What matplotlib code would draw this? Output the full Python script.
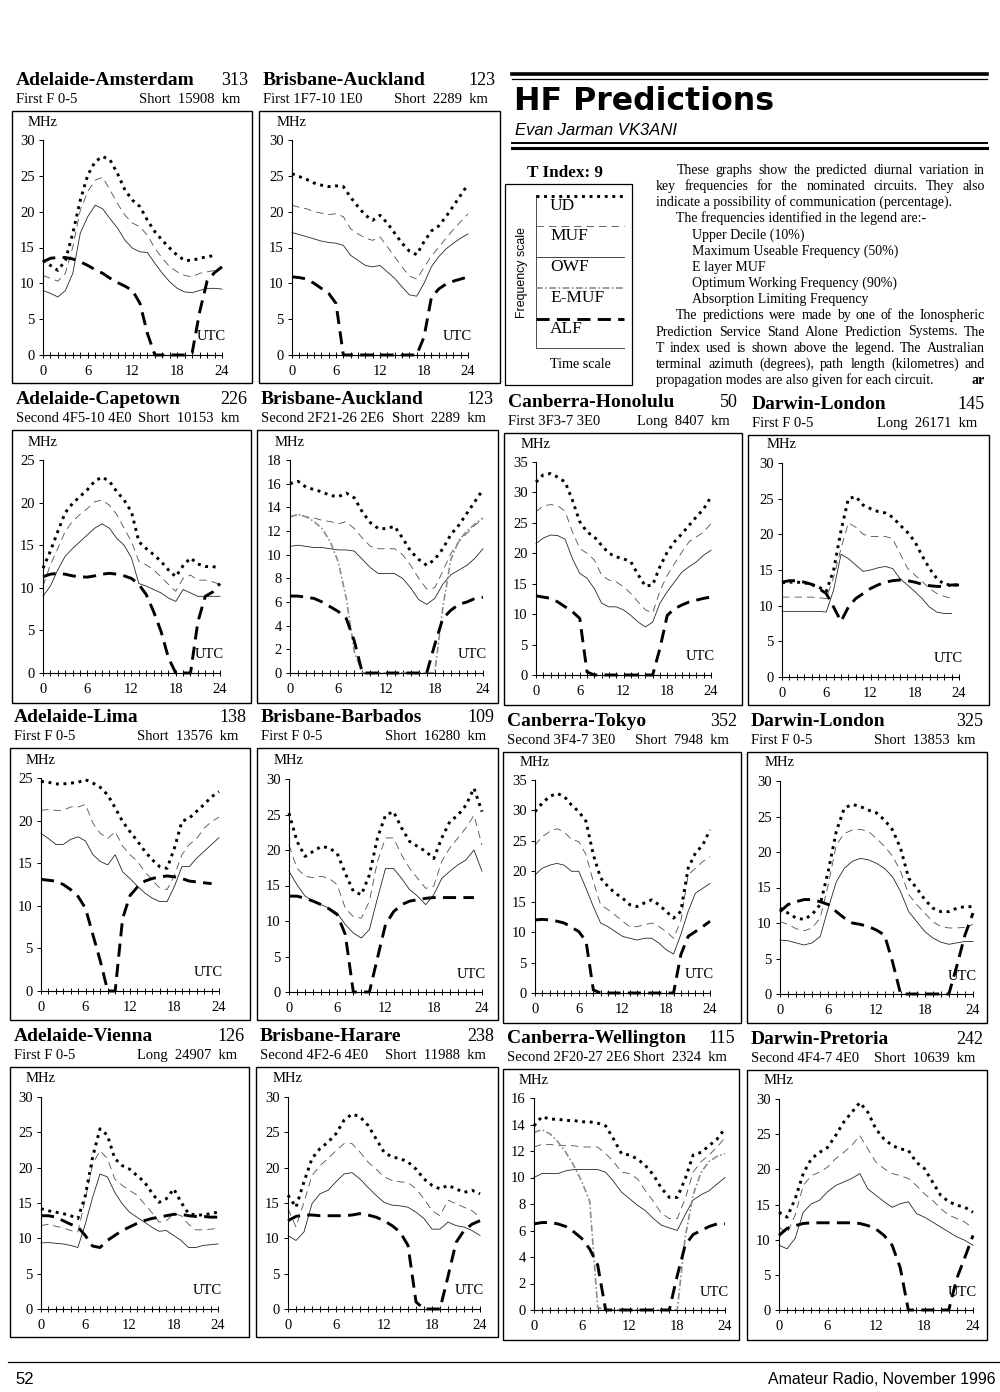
import numpy as np
import matplotlib
matplotlib.use("Agg")
import matplotlib.pyplot as plt
from matplotlib.patches import Rectangle
from matplotlib.ticker import MultipleLocator

nan = np.nan
hours = np.arange(25)  # UTC 0..24

# ---- data (MHz, hourly) ----
ams_ud = [13.2,12.5,11.8,13.2,17.0,21.6,25.1,27.0,27.7,27.2,25.3,23.0,21.6,20.7,18.8,17.2,16.0,14.9,13.9,13.2,13.2,13.5,13.7,13.9,nan]
ams_muf = [11.1,10.7,10.3,11.4,15.1,20.2,22.8,24.4,24.8,23.0,21.1,19.5,18.4,17.9,16.7,14.9,13.5,12.3,11.6,11.1,10.9,11.4,11.6,11.8,nan]
ams_owf = [9.0,8.6,8.1,9.0,11.4,17.0,19.3,20.9,20.4,19.0,17.7,16.0,14.9,14.4,14.3,12.8,11.4,10.2,9.3,8.8,8.7,9.0,9.3,9.3,9.2]
ams_alf = [13.0,13.5,13.6,13.6,13.4,13.0,12.5,11.9,11.4,10.7,10.1,9.6,9.0,7.2,3.0,0,0,0,0,0,0.3,6.0,10.3,11.5,12.3]

akl1_ud = [25.3,24.9,24.5,24.0,23.7,23.5,23.6,23.5,22.0,20.7,19.5,18.8,19.5,18.4,17.0,15.6,14.5,14.0,15.8,17.3,18.0,19.3,20.8,22.3,23.8]
akl1_muf = [20.9,20.6,20.4,20.0,19.8,19.6,19.7,19.3,17.6,16.9,16.3,16.0,16.5,15.1,13.7,12.3,11.0,10.6,12.2,13.8,15.0,16.3,17.5,18.6,19.7]
akl1_owf = [17.1,16.8,16.5,16.2,15.9,15.7,15.6,15.3,13.9,13.2,12.5,12.3,12.5,11.6,10.7,9.5,8.4,8.2,10.0,12.3,13.7,14.8,15.6,16.3,16.9]
akl1_alf = [10.9,10.8,10.6,10.0,9.3,8.6,7.2,0,0,0,0,0,0,0,0,0,0,0,2.5,8.0,9.2,9.9,10.3,10.6,10.9]

cpt_ud = [12.3,14.3,16.6,18.8,19.9,20.7,21.5,22.5,23.0,22.5,21.3,20.3,18.9,15.4,14.6,13.9,13.1,12.1,11.3,12.6,13.5,12.8,12.5,12.5,12.3]
cpt_muf = [10.2,12.7,14.6,16.6,17.8,18.6,19.3,20.1,20.3,19.7,18.6,17.0,15.4,13.1,12.7,12.1,11.3,10.4,9.6,11.1,11.5,10.9,10.9,10.7,10.4]
cpt_owf = [9.0,10.2,12.1,13.7,14.6,15.4,16.2,17.0,17.5,17.0,15.8,15.0,13.5,10.5,10.2,9.8,9.4,8.8,8.4,9.8,9.4,9.0,9.0,9.0,9.0]
cpt_alf = [11.3,11.6,11.7,11.6,11.4,11.3,11.25,11.4,11.6,11.7,11.6,11.4,11.1,10.4,9.2,7.2,4.9,1.8,0,0,0,6.0,9.0,9.5,10.5]

akl2_ud = [16.0,16.2,15.7,15.5,15.3,15.0,14.9,15.2,14.8,13.6,12.7,12.2,12.2,12.4,11.4,10.3,9.6,9.1,9.6,10.5,11.7,12.5,13.5,14.5,15.5]
akl2_muf = [13.2,13.4,13.2,13.1,12.9,12.8,12.6,12.8,12.2,11.4,10.7,10.5,10.5,10.5,10.0,9.1,8.0,7.1,7.2,8.6,10.1,11.1,11.8,12.5,13.0]
akl2_owf = [10.7,10.8,10.7,10.6,10.6,10.5,10.4,10.4,10.3,9.6,8.9,8.4,8.4,8.4,8.0,7.2,6.2,5.8,6.3,7.5,8.3,8.7,9.1,9.7,10.5]
akl2_emuf = [13.2,13.4,13.2,12.8,12.2,11.1,9.4,6.3,1.8,0,0,0,0,0,0,0,0,0,0,5.5,9.6,11.2,12.0,12.6,13.1]
akl2_alf = [6.5,6.5,6.4,6.3,6.0,5.6,5.2,4.6,2.7,0,0,0,0,0,0,0,0,0,2.4,4.6,5.3,5.8,6.0,6.3,6.4]

hnl_ud = [31.7,32.9,33.1,32.5,31.7,28.7,25.2,23.5,22.7,21.3,20.0,19.4,19.1,18.6,16.5,14.6,14.8,17.8,20.2,21.9,23.2,24.6,26.0,27.3,29.3]
hnl_muf = [26.8,27.8,28.0,27.8,26.9,23.5,20.8,20.0,18.9,16.4,15.6,15.3,14.5,13.4,12.0,10.7,10.2,13.8,16.4,18.3,20.2,21.9,22.7,23.5,24.9]
hnl_owf = [21.6,22.5,23.0,22.9,22.3,19.1,16.7,15.9,14.2,11.8,11.2,11.2,10.7,9.8,8.7,7.9,8.7,11.8,13.7,15.3,16.9,17.8,18.6,19.7,20.5]
hnl_alf = [13.0,12.8,12.6,12.0,11.2,10.4,9.3,0.5,0,0,0,0,0,0,0,0,0,4.4,9.8,10.9,11.5,12.0,12.3,12.6,12.8]

lon1_ud = [13.2,13.3,13.3,13.2,13.0,12.6,12.0,15.0,20.5,25.0,25.3,24.1,23.6,23.2,23.0,22.4,21.3,20.3,19.0,17.0,15.2,13.8,13.0,12.9,12.9]
lon1_muf = [11.2,11.2,11.2,11.2,11.2,11.1,11.0,14.0,18.0,21.6,21.0,20.0,19.7,19.7,19.7,19.4,17.3,15.3,14.3,13.4,12.4,11.7,11.3,11.0,nan]
lon1_owf = [9.2,9.2,9.2,9.2,9.2,9.2,9.1,12.2,17.2,16.6,15.7,14.8,15.0,15.3,15.5,15.2,13.8,12.9,12.0,11.0,9.8,9.1,8.9,8.9,nan]
lon1_alf = [13.3,13.5,13.5,13.3,13.0,12.4,11.7,9.8,7.8,9.8,11.0,11.7,12.4,12.9,13.3,13.5,13.6,13.5,13.3,13.0,12.8,12.7,12.7,12.9,12.9]

lim_ud = [24.6,24.5,24.3,24.3,24.4,24.5,24.8,24.4,23.9,23.0,21.5,19.9,18.7,17.6,16.4,15.4,14.6,14.4,16.8,19.9,20.3,21.1,21.9,22.8,23.4]
lim_muf = [21.2,21.3,21.2,21.2,21.6,21.6,21.9,19.7,18.5,17.9,18.7,17.0,16.0,15.2,14.0,13.0,12.1,11.9,13.6,16.0,17.2,17.9,19.1,19.9,20.4]
lim_owf = [18.5,17.9,17.2,17.2,17.8,18.1,17.6,16.0,15.2,14.8,16.0,14.0,13.2,12.3,11.5,10.9,10.5,10.5,12.3,14.6,14.6,15.6,16.4,17.2,18.0]
lim_alf = [13.1,13.0,12.9,12.5,11.9,11.1,9.7,6.6,3.5,0,0,8.5,11.2,12.2,12.9,13.2,13.4,13.5,13.4,13.2,12.9,12.8,12.7,12.6,nan]

bgi_ud = [25.2,21.2,19.1,19.8,20.5,20.3,19.5,16.7,14.2,13.7,16.5,21.7,24.9,25.4,23.1,21.2,20.5,19.8,18.8,21.7,24.0,24.9,26.3,28.7,25.4]
bgi_muf = [20.7,17.4,16.3,16.1,16.3,16.0,15.1,11.8,10.6,10.4,12.8,18.4,21.7,21.7,19.3,17.4,16.0,14.6,14.9,18.4,20.3,21.7,23.1,24.9,20.7]
bgi_owf = [17.0,15.1,13.5,12.8,12.3,11.8,11.1,9.5,8.3,7.6,8.8,13.2,17.4,17.4,16.0,14.4,13.5,12.3,13.7,16.0,17.0,17.9,18.6,20.0,17.0]
bgi_alf = [13.5,13.5,13.2,12.8,12.3,11.7,10.9,8.1,0,0,0,4.8,9.5,11.3,12.3,12.8,13.0,13.2,13.3,13.3,13.3,13.3,13.3,13.3,nan]

tyo_ud = [29.8,31.2,32.3,32.8,32.3,30.9,29.8,28.2,22.7,18.9,17.5,16.4,15.6,14.5,14.2,14.8,15.3,14.5,13.4,12.3,13.4,20.5,23.0,24.3,26.8]
tyo_muf = [24.3,25.7,26.5,27.0,26.5,25.2,24.9,22.7,18.3,14.5,13.7,12.8,11.8,10.9,10.9,11.2,11.5,10.9,10.1,9.0,11.8,19.4,20.5,21.6,22.4]
tyo_owf = [19.4,20.5,21.0,21.3,21.0,20.0,20.0,17.2,14.2,11.5,10.9,10.1,9.3,9.0,8.7,9.0,9.0,8.2,7.1,6.4,9.6,13.4,16.4,17.2,18.0]
tyo_alf = [12.0,12.1,12.0,11.8,11.5,10.8,10.1,8.5,0.5,0,0,0,0,0,0,0,0,0,0,0,6.3,9.3,10.1,10.9,11.8]

lon2_ud = [12.1,11.4,10.7,10.5,11.2,12.6,17.3,22.9,26.2,26.7,26.4,25.9,25.5,24.5,23.1,20.5,16.3,14.9,13.3,12.1,11.6,11.6,12.1,12.3,12.3]
lon2_muf = [10.2,9.8,9.2,8.9,9.3,10.7,15.4,21.0,22.6,23.1,23.2,22.9,21.9,20.8,19.4,17.3,14.0,12.6,11.4,10.2,9.5,9.3,9.3,9.4,9.8]
lon2_owf = [7.6,7.5,7.2,6.9,7.2,8.1,12.1,15.8,17.7,18.7,19.1,18.9,18.4,17.7,16.5,14.4,11.6,10.2,8.8,7.9,7.3,7.0,7.2,7.4,7.4]
lon2_alf = [11.6,12.6,13.0,13.3,13.3,13.0,12.6,11.6,10.7,10.0,9.8,9.5,9.0,8.3,4.5,0,0,0,0,0,0,0,4.0,8.3,11.4]

vie_ud = [14.2,13.9,13.7,13.5,13.2,12.8,16.0,21.5,25.5,24.6,21.3,20.3,19.8,18.9,18.0,16.5,15.1,15.6,17.0,15.1,13.5,13.3,13.3,13.5,13.7]
vie_muf = [11.8,12.0,11.7,11.5,11.1,10.9,15.5,20.5,22.4,21.3,18.4,17.5,16.8,16.1,14.9,13.7,12.3,12.5,13.5,13.2,12.0,11.2,11.2,11.3,11.4]
vie_owf = [9.35,9.4,9.3,9.2,9.0,8.7,12.0,15.8,19.1,18.7,16.5,14.9,13.7,13.0,12.3,11.6,11.0,11.1,10.4,9.7,8.7,8.7,9.0,9.1,9.2]
vie_alf = [13.2,13.2,13.0,12.5,12.0,11.6,10.4,8.9,8.7,9.7,10.4,11.1,11.6,12.1,12.5,12.8,13.0,13.2,13.4,13.4,13.2,13.1,13.1,13.0,13.0]

hre_ud = [16.1,14.4,18.0,21.3,22.7,23.6,24.8,26.7,27.6,27.2,26.0,24.1,22.2,21.5,21.3,20.8,19.8,18.4,17.5,17.0,17.5,17.0,16.5,16.8,16.3]
hre_muf = [14.2,11.6,15.1,18.9,20.3,21.3,22.4,23.4,23.4,22.2,20.8,19.8,18.7,18.2,18.0,17.9,17.0,15.6,13.9,13.2,15.4,14.9,14.4,13.9,13.0]
hre_owf = [10.4,9.7,10.9,14.9,16.3,16.8,18.0,19.1,19.3,18.4,17.2,16.1,15.1,14.7,14.6,14.4,13.7,12.8,11.3,11.3,12.3,11.8,11.6,11.1,10.4]
hre_alf = [12.5,13.1,13.3,13.3,13.2,13.2,13.2,13.2,13.3,13.5,13.3,13.0,12.5,11.8,10.9,9.0,1.0,0,0,0,4.6,9.4,11.1,12.0,12.5]

wlg_ud = [13.9,14.6,14.4,14.4,14.3,14.3,14.2,14.2,14.1,13.9,12.9,11.8,11.7,11.4,10.9,10.2,9.2,8.5,8.5,9.9,11.7,11.9,12.4,12.9,13.7]
wlg_muf = [12.3,12.5,12.5,12.4,12.4,12.4,12.3,12.3,12.3,11.8,11.2,10.4,10.3,9.9,9.0,8.2,7.3,6.9,6.9,8.4,10.4,11.2,11.7,12.3,13.0]
wlg_owf = [10.0,10.3,10.3,10.3,10.5,10.6,10.6,10.6,10.6,10.4,9.7,8.9,8.4,7.9,7.5,6.9,6.4,6.2,6.0,7.2,8.3,8.7,9.0,9.5,10.0]
wlg_emuf = [13.4,13.6,13.3,12.7,11.9,10.9,9.7,8.2,0.2,0,0,0,0,0,0,0,0,0,0,5.5,8.7,10.4,11.2,11.6,11.8]
wlg_alf = [6.5,6.6,6.6,6.5,6.3,5.9,5.4,4.6,3.4,0,0,0,0,0,0,0,0,0,2.6,4.9,5.7,6.0,6.3,6.5,6.5]

pry_ud = [13.9,13.2,15.8,19.4,21.5,22.4,23.1,24.8,26.7,28.1,29.5,28.1,25.7,24.3,23.4,22.9,22.7,21.0,20.1,18.2,16.3,15.4,14.9,14.6,13.9]
pry_muf = [11.8,10.9,13.5,17.7,19.1,19.6,20.3,21.5,22.4,23.4,24.8,22.9,21.0,20.1,19.4,19.1,18.7,17.7,16.5,15.6,14.4,13.5,13.0,12.5,11.6]
pry_owf = [9.2,8.7,10.2,13.9,15.1,15.6,16.8,17.7,18.2,18.7,19.4,17.2,16.3,15.4,14.6,15.1,15.4,13.7,13.2,12.5,11.8,11.1,10.4,9.9,9.2]
pry_alf = [10.6,11.6,12.0,12.3,12.4,12.4,12.4,12.4,12.4,12.4,12.3,12.0,11.5,10.6,9.2,6.0,0,0,0,0,0,0,4.5,7.5,10.6]

circuits = ["Adelaide-Amsterdam", "Brisbane-Auckland", "Adelaide-Capetown", "Brisbane-Auckland",
            "Canberra-Honolulu", "Darwin-London", "Adelaide-Lima", "Brisbane-Barbados",
            "Canberra-Tokyo", "Darwin-London", "Adelaide-Vienna", "Brisbane-Harare",
            "Canberra-Wellington", "Darwin-Pretoria"]
azimuths = ["313", "123", "226", "123", "50", "145", "138", "109", "352", "325", "126", "238", "115", "242"]
modes = ["First F 0-5", "First 1F7-10 1E0", "Second 4F5-10 4E0", "Second 2F21-26 2E6",
         "First 3F3-7 3E0", "First F 0-5", "First F 0-5", "First F 0-5",
         "Second 3F4-7 3E0", "First F 0-5", "First F 0-5", "Second 4F2-6 4E0",
         "Second 2F20-27 2E6", "Second 4F4-7 4E0"]
paths = ["Short", "Short", "Short", "Short", "Long", "Long", "Short", "Short",
         "Short", "Short", "Long", "Short", "Short", "Short"]
lengths = ["15908", "2289", "10153", "2289", "8407", "26171", "13576", "16280",
           "7948", "13853", "24907", "11988", "2324", "10639"]
y_max = [30, 30, 25, 18, 35, 30, 25, 30, 35, 30, 30, 30, 16, 30]
y_step = [5, 5, 5, 2, 5, 5, 5, 5, 5, 5, 5, 5, 2, 5]

series = [
    dict(UD=ams_ud, MUF=ams_muf, OWF=ams_owf, ALF=ams_alf),
    dict(UD=akl1_ud, MUF=akl1_muf, OWF=akl1_owf, ALF=akl1_alf),
    dict(UD=cpt_ud, MUF=cpt_muf, OWF=cpt_owf, ALF=cpt_alf),
    dict(UD=akl2_ud, MUF=akl2_muf, OWF=akl2_owf, EMUF=akl2_emuf, ALF=akl2_alf),
    dict(UD=hnl_ud, MUF=hnl_muf, OWF=hnl_owf, ALF=hnl_alf),
    dict(UD=lon1_ud, MUF=lon1_muf, OWF=lon1_owf, ALF=lon1_alf),
    dict(UD=lim_ud, MUF=lim_muf, OWF=lim_owf, ALF=lim_alf),
    dict(UD=bgi_ud, MUF=bgi_muf, OWF=bgi_owf, ALF=bgi_alf),
    dict(UD=tyo_ud, MUF=tyo_muf, OWF=tyo_owf, ALF=tyo_alf),
    dict(UD=lon2_ud, MUF=lon2_muf, OWF=lon2_owf, ALF=lon2_alf),
    dict(UD=vie_ud, MUF=vie_muf, OWF=vie_owf, ALF=vie_alf),
    dict(UD=hre_ud, MUF=hre_muf, OWF=hre_owf, ALF=hre_alf),
    dict(UD=wlg_ud, MUF=wlg_muf, OWF=wlg_owf, EMUF=wlg_emuf, ALF=wlg_alf),
    dict(UD=pry_ud, MUF=pry_muf, OWF=pry_owf, ALF=pry_alf),
]

# ---- page layout in pixels: frame box (l, t, r, b) and plot area (x of 0h, x of 24h, y of top, y of 0) ----
boxes = [(12,111,252,383), (259,111,500,383),
         (12,430,251,703), (257,430,498,703), (504,433,742,705), (748,435,989,705),
         (10,748,250,1020), (257,748,498,1020), (503,752,741,1023), (747,752,987,1023),
         (10,1067,249,1337), (256,1067,498,1337), (503,1069,739,1340), (747,1070,987,1340)]
plot_px = [(43,222,140,355), (292,468,140,355),
           (43,220,460,673), (290,483,460,673), (536,711,462,675), (782,959,463,677),
           (41,219,778,991), (289,482,779,992), (535,710,780,993), (780,973,781,994),
           (41,218,1097,1309), (288,480,1097,1309), (534,725,1098,1310), (779,973,1099,1310)]

styles = {
    "OWF": dict(color="0.15", lw=0.6, ls="-"),
    "MUF": dict(color="0.3", lw=0.6, ls=(0, (9, 6))),
    "EMUF": dict(color="0.55", lw=1.2, ls=(0, (4, 1.5, 1, 1.5))),
    "UD": dict(color="black", lw=2.1, ls=(0, (1, 1.6))),
    "ALF": dict(color="black", lw=2.1, ls=(0, (4.5, 2.5))),
}

SERIF = "Liberation Serif"
SANS = "Liberation Sans"
plt.rcParams["font.family"] = SERIF

W, H = 1000, 1392
fig = plt.figure(figsize=(10, 13.92), dpi=100)
page = fig.add_axes([0, 0, 1, 1], zorder=-1)
page.set_xlim(0, W)
page.set_ylim(H, 0)
page.axis("off")

# ---- the small charts ----
for i in range(len(circuits)):
    bl, bt, br, bb = boxes[i]
    page.add_patch(Rectangle((bl, bt), br - bl, bb - bt, fill=False, lw=1.0, ec="black"))
    page.text(bl + 4, bt - 26, circuits[i], fontsize=14, fontweight="bold", va="baseline")
    page.text(br - 4, bt - 26, azimuths[i], fontsize=13, ha="right", va="baseline")
    page.text(bl + 4, bt - 8, modes[i], fontsize=10.5, va="baseline")
    page.text(br - 12, bt - 8, paths[i] + "  " + lengths[i] + "  km", fontsize=10.5,
              ha="right", va="baseline")

    x0, x24, ytop, y0 = plot_px[i]
    ax = fig.add_axes([x0 / W, 1 - y0 / H, (x24 - x0) / W, (y0 - ytop) / H])
    ax.set_facecolor("none")
    for key in ["OWF", "MUF", "EMUF", "UD", "ALF"]:
        if key in series[i]:
            ax.plot(hours, series[i][key], clip_on=False, **styles[key])
    ax.set_xlim(0, 24)
    ax.set_ylim(0, y_max[i])
    ax.set_yticks(np.arange(0, y_max[i] + 1, y_step[i]))
    ax.xaxis.set_major_locator(MultipleLocator(6))
    ax.xaxis.set_minor_locator(MultipleLocator(1))
    for s in ["top", "right"]:
        ax.spines[s].set_visible(False)
    for s in ["left", "bottom"]:
        ax.spines[s].set_linewidth(0.8)
    ax.tick_params(axis="y", direction="out", length=3, width=0.7, labelsize=10.5, pad=3)
    ax.tick_params(axis="x", which="major", direction="inout", length=5, width=0.7,
                   labelsize=10.5, pad=5)
    ax.tick_params(axis="x", which="minor", direction="inout", length=4, width=0.7)
    page.text(x0 - 15, ytop - 18, "MHz", fontsize=10.5, va="center")
    page.text(x24 + 4, y0 - 18, "UTC", fontsize=10.5, ha="right", va="center")

# ---- header block ----
page.plot([512, 987], [74, 74], color="black", lw=2.6)
page.plot([512, 987], [78.5, 78.5], color="black", lw=0.9)
page.text(514, 110, "HF Predictions", family="DejaVu Sans", fontsize=22.8, fontweight="bold",
          va="baseline")
page.text(515, 135, "Evan Jarman VK3ANI", family=SANS, fontsize=12, style="italic", va="baseline")
page.plot([512, 987], [143, 143], color="black", lw=1.4)
page.plot([512, 987], [147.5, 147.5], color="black", lw=2.2)

# ---- legend box ----
page.text(565, 177, "T Index: 9", fontsize=12.3, fontweight="bold", ha="center", va="baseline")
page.add_patch(Rectangle((505, 184), 127, 201, fill=False, lw=0.9, ec="black"))
page.plot([536, 536], [195, 348], color="0.3", lw=0.7)
page.plot([536, 624], [348, 348], color="0.3", lw=0.7)
leg_keys = ["UD", "MUF", "OWF", "EMUF", "ALF"]
leg_names = ["UD", "MUF", "OWF", "E-MUF", "ALF"]
leg_y = [196, 226, 257, 288, 319]
for k, nm, yy in zip(leg_keys, leg_names, leg_y):
    page.plot([536, 624], [yy, yy], **styles[k])
    page.text(550, yy + 10, nm, fontsize=12.5, va="center")
page.text(522, 272, "Frequency scale", family=SANS, fontsize=8.9, rotation=90,
          ha="center", va="center")
page.text(580, 365, "Time scale", fontsize=10.2, ha="center", va="center")

# ---- explanatory text ----
para = [
    ("These graphs show the predicted diurnal variation in", 677, True),
    ("key frequencies for the nominated circuits. They also", 656, True),
    ("indicate a possibility of communication (percentage).", 656, False),
    ("The frequencies identified in the legend are:-", 676, False),
    ("Upper Decile (10%)", 692, False),
    ("Maximum Useable Frequency (50%)", 692, False),
    ("E layer MUF", 692, False),
    ("Optimum Working Frequency (90%)", 692, False),
    ("Absorption Limiting Frequency", 692, False),
    ("The predictions were made by one of the Ionospheric", 676, True),
    ("Prediction Service Stand Alone Prediction Systems. The", 656, True),
    ("T index used is shown above the legend. The Australian", 656, True),
    ("terminal azimuth (degrees), path length (kilometres) and", 656, True),
    ("propagation modes are also given for each circuit.", 656, False),
]
renderer = fig.canvas.get_renderer()
for n, (line, xs, just) in enumerate(para):
    yy = 174 + n * 16.15
    if not just:
        page.text(xs, yy, line, fontsize=10, va="baseline")
        continue
    words = line.split()
    arts = [page.text(xs, yy, w, fontsize=10, va="baseline") for w in words]
    widths = [a.get_window_extent(renderer).width for a in arts]
    gap = (985 - xs - sum(widths)) / (len(words) - 1)
    xx = xs
    for a, w in zip(arts, widths):
        a.set_x(xx)
        xx += w + gap
page.text(985, 174 + 13 * 16.15, "ar", fontsize=10, fontweight="bold", ha="right", va="baseline")

# ---- footer ----
page.plot([8, 1000], [1362, 1362], color="black", lw=0.9)
page.text(15, 1384, "52", family=SANS, fontsize=12, va="baseline")
page.text(995, 1384, "Amateur Radio, November 1996", family=SANS, fontsize=11.4,
          ha="right", va="baseline")

fig.savefig("out.png", dpi=100, facecolor="white")
